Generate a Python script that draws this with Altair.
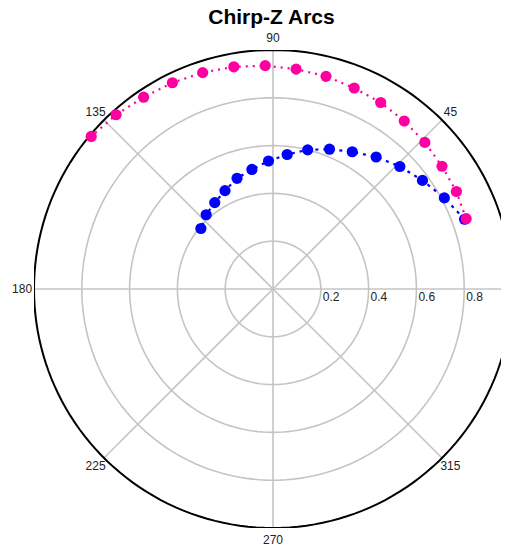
import altair as alt
import pandas as pd

title_text = "Chirp-Z Arcs"

# Series (angle in degrees, radius)
pink_theta = [20, 28, 36, 44, 52, 60, 68, 76, 84, 92, 100, 108, 116, 124, 132, 140]
pink_r = [0.860, 0.869, 0.874, 0.883, 0.892, 0.901, 0.907, 0.917, 0.925, 0.935, 0.944, 0.952, 0.960, 0.968, 0.981, 0.993]
blue_theta = [20, 28, 36, 44, 52, 60, 68, 76, 84, 92, 100, 108, 116, 124, 132, 140]
blue_r = [0.853, 0.812, 0.773, 0.738, 0.701, 0.663, 0.631, 0.600, 0.566, 0.536, 0.508, 0.487, 0.458, 0.436, 0.418, 0.394]

ring_values = [0.2, 0.4, 0.6, 0.8]
ring_labels = ["0.2", "0.4", "0.6", "0.8"]
outer_radius = [1.0]
spoke_angles = [0, 45, 90, 135, 180, 225, 270, 315]
spoke_labels = ["0", "45", "90", "135", "180", "225", "270", "315"]

PINK = "#ff00a0"
BLUE = "#0000ff"
GRID = "#c4c4c4"

circle_steps = list(range(0, 361, 2))

rings_df = pd.DataFrame([{"ring": r, "deg": d} for r in ring_values for d in circle_steps])
outer_df = pd.DataFrame([{"ring": r, "deg": d} for r in outer_radius for d in circle_steps])
spokes_df = pd.DataFrame({"deg": spoke_angles, "label": spoke_labels})
rlab_df = pd.DataFrame({"r": ring_values, "label": ring_labels})
pink_df = pd.DataFrame({"theta": pink_theta, "r": pink_r})
blue_df = pd.DataFrame({"theta": blue_theta, "r": blue_r})

xs = alt.Scale(domain=[-1, 0.954], nice=False, zero=False)
ys = alt.Scale(domain=[-1, 1], nice=False, zero=False)


def X(f):
    return alt.X(f, type="quantitative", scale=xs, axis=None)


def Y(f):
    return alt.Y(f, type="quantitative", scale=ys, axis=None)


rings = alt.Chart(rings_df).transform_calculate(
    px="datum.ring*cos(datum.deg*PI/180)", py="datum.ring*sin(datum.deg*PI/180)"
).mark_line(color=GRID, strokeWidth=1.6, clip=True).encode(
    x=X("px"), y=Y("py"), detail="ring:N", order="deg:Q"
)

outer = alt.Chart(outer_df).transform_calculate(
    px="datum.ring*cos(datum.deg*PI/180)", py="datum.ring*sin(datum.deg*PI/180)"
).mark_line(color="black", strokeWidth=2, clip=True).encode(
    x=X("px"), y=Y("py"), detail="ring:N", order="deg:Q"
)

spokes = alt.Chart(spokes_df).transform_calculate(
    x0="0", y0="0", px="cos(datum.deg*PI/180)", py="sin(datum.deg*PI/180)"
).mark_rule(color=GRID, strokeWidth=1.6, clip=True).encode(
    x=X("x0"), y=Y("y0"), x2="px:Q", y2="py:Q"
)

angle_labels = alt.Chart(spokes_df).transform_filter("datum.deg != 0").transform_calculate(
    px="1.05*cos(datum.deg*PI/180)", py="1.05*sin(datum.deg*PI/180)"
).mark_text(font="Liberation Sans", fontSize=12, color="#222222", align="center", baseline="middle").encode(
    x=X("px"), y=Y("py"), text="label:N"
)

r_labels = alt.Chart(rlab_df).transform_calculate(py="0").mark_text(
    font="Liberation Sans", fontSize=12, color="#222222", align="left", baseline="top", dx=2, dy=3
).encode(x=X("r"), y=Y("py"), text="label:N")


def series(df, color, dash):
    base = alt.Chart(df).transform_calculate(
        px="datum.r*cos(datum.theta*PI/180)", py="datum.r*sin(datum.theta*PI/180)"
    )
    line = base.mark_line(color=color, strokeWidth=2.2, strokeDash=dash).encode(
        x=X("px"), y=Y("py"), order="theta:Q"
    )
    pts = base.mark_circle(color=color, size=125, opacity=1).encode(x=X("px"), y=Y("py"))
    return line + pts


blue = series(blue_df, BLUE, [3, 5])
pink = series(pink_df, PINK, [2, 5])

chart = alt.layer(rings, spokes, outer, angle_labels, r_labels, blue, pink).properties(
    width=467,
    height=478,
    title=alt.TitleParams(
        title_text, font="Liberation Sans", fontSize=21, fontWeight="bold",
        anchor="middle", offset=4, dx=4, color="black"
    ),
    autosize=alt.AutoSizeParams(type="none"),
    padding={"left": 26, "top": 42, "right": 0, "bottom": 17},
).configure_view(stroke=None)

chart.save("out.html", embed_options={"renderer": "svg", "actions": False})
